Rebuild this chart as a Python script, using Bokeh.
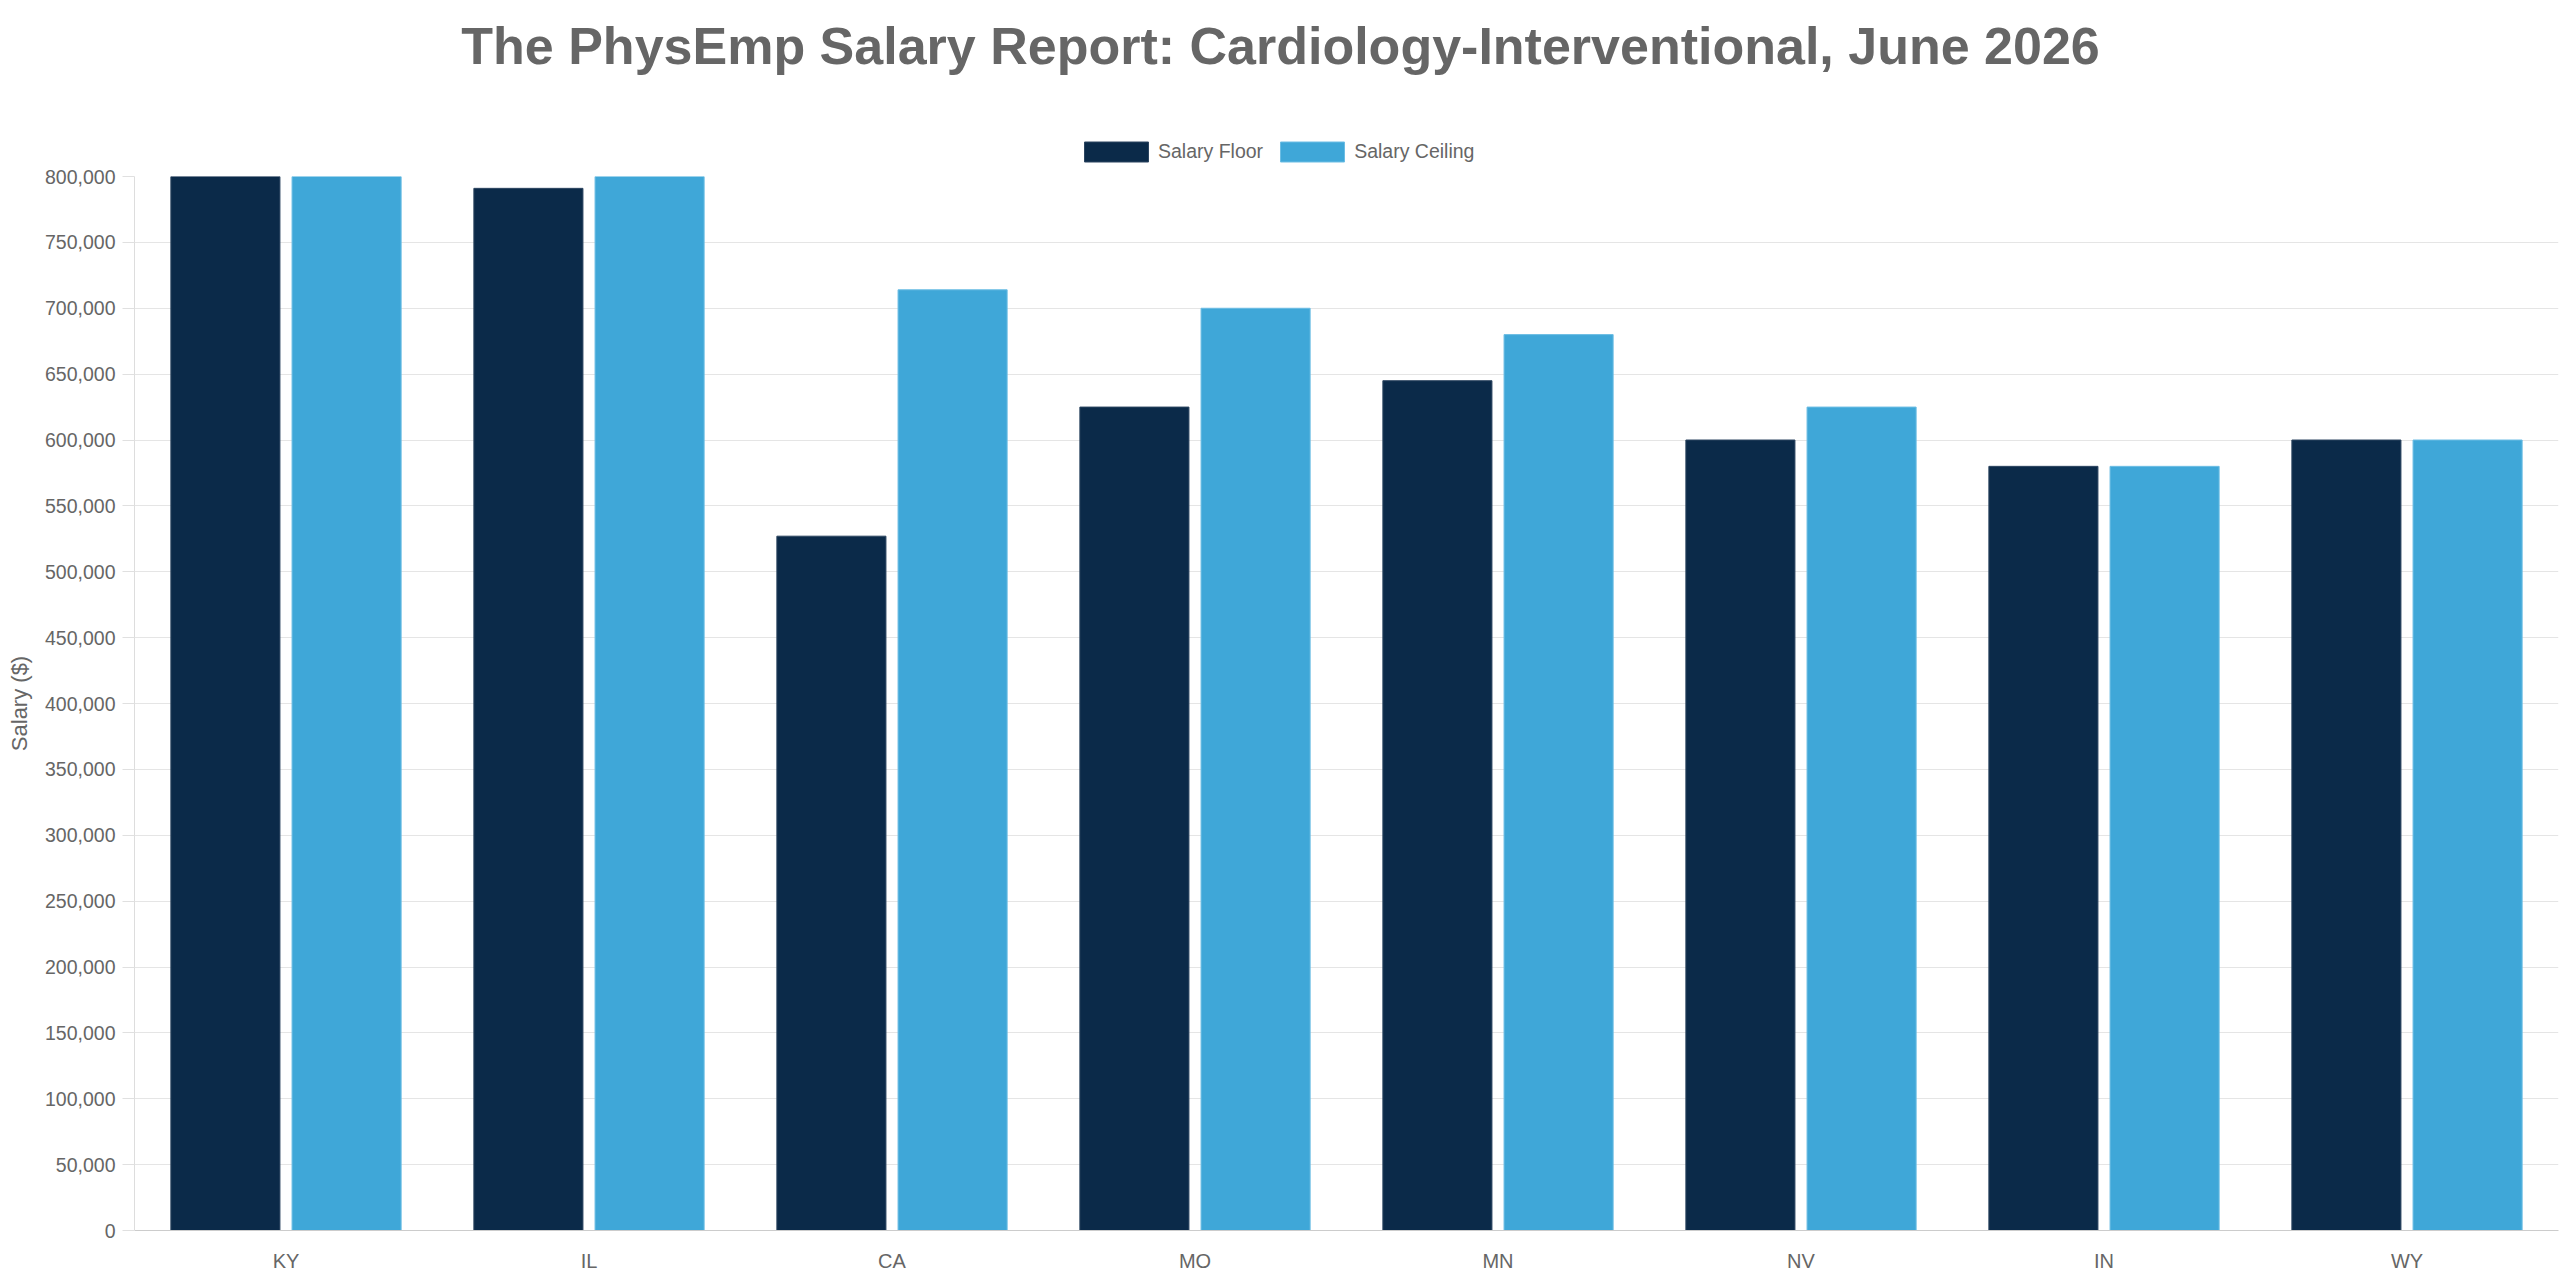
from bokeh.plotting import figure
from bokeh.layouts import column
from bokeh.models import (ColumnDataSource, FactorRange, Range1d, FixedTicker,
                          NumeralTickFormatter, Legend, LegendItem, Label)
from bokeh.transform import dodge
from bokeh.embed import file_html
from bokeh.resources import INLINE

# Salary ranges by state
states = ["KY", "IL", "CA", "MO", "MN", "NV", "IN", "WY"]
salary_floor = [800000, 791000, 527000, 625000, 645000, 600000, 580000, 600000]
salary_ceiling = [800000, 800000, 714000, 700000, 680000, 625000, 580000, 600000]
y_ticks = list(range(0, 800001, 50000))

title_text = "The PhysEmp Salary Report: Cardiology-Interventional, June 2026"
series_names = ["Salary Floor", "Salary Ceiling"]
floor_color = "#0b2a49"
ceiling_color = "#3fa7d8"
floor_edge = "#2c4560"
ceiling_edge = "#6cbde4"
text_color = "#666666"
font = "Liberation Sans"

W = 2560
HEADER_H = 164
LEFT, RIGHT = 134, 2

# ---- header: title and legend (x in page pixels) ----
header = figure(
    width=W, height=HEADER_H,
    x_range=Range1d(LEFT, W - RIGHT), y_range=Range1d(0, HEADER_H),
    x_axis_type=None, y_axis_type=None, output_backend="svg", toolbar_location=None,
    min_border_left=LEFT, min_border_right=RIGHT, min_border_top=0, min_border_bottom=0,
)
header.outline_line_color = None
header.xgrid.visible = False
header.ygrid.visible = False

header.add_layout(Label(
    x=W / 2, y=HEADER_H - 45, text=title_text,
    text_align="center", text_baseline="alphabetic",
    text_font=font, text_font_size="52px", text_font_style="bold",
    text_color=text_color,
))

# swatch renderers for the legend entries (kept outside the visible range)
sw_floor = header.vbar(x=[-1000], top=[0], width=1, fill_color=floor_color, line_color=floor_edge)
sw_ceil = header.vbar(x=[-1000], top=[0], width=1, fill_color=ceiling_color, line_color=ceiling_edge)

# area swatches are inset by 10% on each side, so the glyph box is 80x25
legend = Legend(
    items=[LegendItem(label=series_names[0], renderers=[sw_floor]),
           LegendItem(label=series_names[1], renderers=[sw_ceil])],
    orientation="horizontal", location=(1076 - LEFT, 0.5),
    glyph_width=80, glyph_height=25, label_height=25,
    label_standoff=2, spacing=9, padding=0, margin=0,
    border_line_color=None, background_fill_alpha=0,
    label_text_font=font, label_text_font_size="19.5px",
    label_text_color=text_color,
)
header.add_layout(legend, "center")

# ---- main bar chart ----
source = ColumnDataSource(dict(state=states, floor=salary_floor, ceiling=salary_ceiling))

p = figure(
    width=W, height=1280 - HEADER_H,
    x_range=FactorRange(*states, range_padding=0),
    y_range=Range1d(0, 800000),
    output_backend="svg", toolbar_location=None,
    min_border_left=LEFT, min_border_right=RIGHT,
    min_border_top=12, min_border_bottom=50,
)
p.outline_line_color = None
p.background_fill_color = "white"

p.vbar(x=dodge("state", -0.2, range=p.x_range), top="floor", width=0.36,
       source=source, fill_color=floor_color, line_color=floor_edge, line_width=1)
p.vbar(x=dodge("state", 0.2, range=p.x_range), top="ceiling", width=0.36,
       source=source, fill_color=ceiling_color, line_color=ceiling_edge, line_width=1)

p.yaxis.ticker = FixedTicker(ticks=y_ticks)
p.yaxis.formatter = NumeralTickFormatter(format="0,0")
p.yaxis.axis_label = "Salary ($)"
p.yaxis.axis_label_text_font = font
p.yaxis.axis_label_text_font_size = "22px"
p.yaxis.axis_label_text_font_style = "normal"
p.yaxis.axis_label_text_color = text_color
p.yaxis.axis_label_standoff = 10
p.yaxis.major_label_text_font = font
p.yaxis.major_label_text_font_size = "19.5px"
p.yaxis.major_label_text_color = text_color
p.yaxis.major_label_standoff = 7
p.yaxis.major_tick_out = 12
p.yaxis.major_tick_in = 0
p.yaxis.minor_tick_line_color = None
p.yaxis.major_tick_line_color = "#e0e0e0"
p.yaxis.axis_line_color = "#dddddd"

p.xaxis.major_label_text_font = font
p.xaxis.major_label_text_font_size = "20px"
p.xaxis.major_label_text_color = text_color
p.xaxis.major_tick_out = 0
p.xaxis.major_tick_in = 0
p.xaxis.major_label_standoff = 19
p.xaxis.axis_line_color = "#cccccc"

p.xgrid.grid_line_color = None
p.ygrid.grid_line_color = "#e5e5e5"
p.ygrid.grid_line_width = 1

layout = column(header, p, spacing=0)
open("out.html", "w").write(file_html(layout, INLINE))
